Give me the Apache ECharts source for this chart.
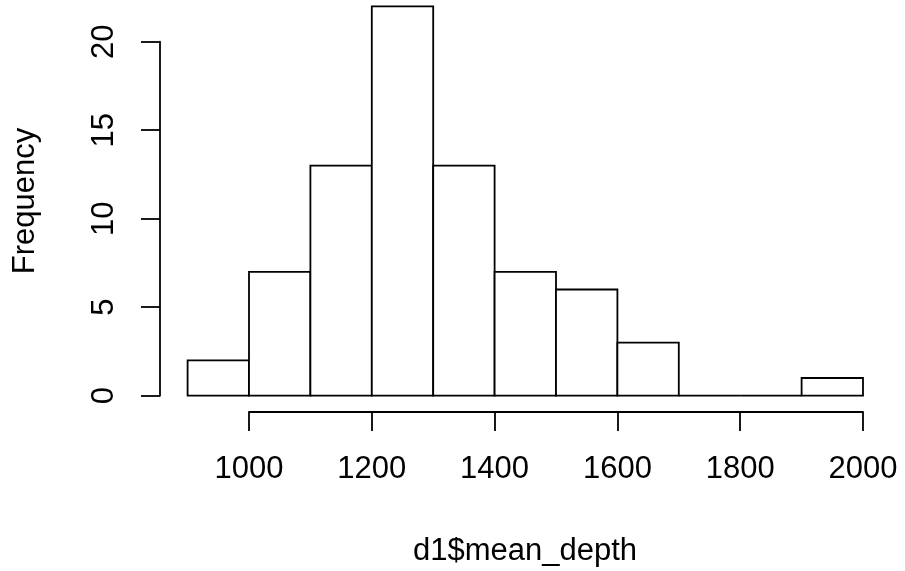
<!DOCTYPE html>
<html>
<head>
<meta charset="utf-8">
<script src="https://cdn.jsdelivr.net/npm/echarts@6/dist/echarts.min.js"></script>
<style>html,body{margin:0;padding:0;background:#fff;}#c{width:905px;height:571px;}</style>
</head>
<body>
<div id="c"></div>
<script>
const binStarts = [900, 1000, 1100, 1200, 1300, 1400, 1500, 1600, 1700, 1800, 1900];
const binWidth = 100;
const counts = [2, 7, 13, 22, 13, 7, 6, 3, 0, 0, 1];
const xTicks = [1000, 1200, 1400, 1600, 1800, 2000];
const yTicks = [0, 5, 10, 15, 20];
const xLabel = 'd1$mean_depth';
const yLabel = 'Frequency';

const FONT = '"Liberation Sans", Arial, sans-serif';
const FS = 31;
const chart = echarts.init(document.getElementById('c'), null, {renderer: 'canvas'});

const Y0 = 395.7, UNIT = 17.7;
const topA = Y0 - 22 * UNIT;
const XAXIS_Y = 412;
const YAXIS_X = 160;

const option = {
  animation: false,
  backgroundColor: '#fff',
  grid: [
    {left: 187.6, width: 675.4, top: topA, height: 22 * UNIT},
    {left: 249, width: 614, top: topA, height: XAXIS_Y - topA},
    {left: YAXIS_X, width: 863 - YAXIS_X, top: Y0 - 20 * UNIT, height: 20 * UNIT}
  ],
  xAxis: [
    {gridIndex: 0, type: 'value', min: 900, max: 2000, show: false},
    {gridIndex: 1, type: 'value', min: xTicks[0], max: xTicks[xTicks.length - 1], interval: 200,
     position: 'bottom',
     axisLine: {show: true, lineStyle: {color: '#000', width: 1.8}},
     axisTick: {show: true, length: 19, lineStyle: {color: '#000', width: 1.8}},
     axisLabel: {show: true, margin: 42, color: '#000', fontSize: FS, fontFamily: FONT,
                 showMinLabel: true, showMaxLabel: true, formatter: v => String(v)},
     splitLine: {show: false}},
    {gridIndex: 2, type: 'value', min: 900, max: 2000, show: false}
  ],
  yAxis: [
    {gridIndex: 0, type: 'value', min: 0, max: 22, show: false},
    {gridIndex: 1, type: 'value', min: 0, max: 22, show: false},
    {gridIndex: 2, type: 'value', min: yTicks[0], max: yTicks[yTicks.length - 1], interval: 5,
     position: 'left',
     axisLine: {show: true, lineStyle: {color: '#000', width: 1.8}},
     axisTick: {show: true, length: 19, lineStyle: {color: '#000', width: 1.8}},
     axisLabel: {show: true, rotate: 90, margin: 40, color: '#000', fontSize: FS, fontFamily: FONT,
                 showMinLabel: true, showMaxLabel: true, formatter: v => String(v)},
     splitLine: {show: false}}
  ],
  series: [{
    type: 'custom',
    xAxisIndex: 0, yAxisIndex: 0,
    data: binStarts.map((s, i) => [s, s + binWidth, counts[i]]),
    renderItem: function (params, api) {
      const p1 = api.coord([api.value(0), api.value(2)]);
      const p2 = api.coord([api.value(1), 0]);
      return {
        type: 'rect',
        shape: {x: p1[0], y: p1[1], width: p2[0] - p1[0], height: p2[1] - p1[1]},
        style: {fill: '#fff', stroke: '#000', lineWidth: 1.8}
      };
    }
  }],
  graphic: [
    {type: 'text', x: 525, y: 551, style: {text: xLabel, font: FS + 'px ' + FONT, fill: '#000', textAlign: 'center', textVerticalAlign: 'middle'}},
    {type: 'text', x: 25.5, y: 201, rotation: Math.PI / 2, style: {text: yLabel, font: FS + 'px ' + FONT, fill: '#000', textAlign: 'center', textVerticalAlign: 'middle'}}
  ]
};
chart.setOption(option);
</script>
</body>
</html>
